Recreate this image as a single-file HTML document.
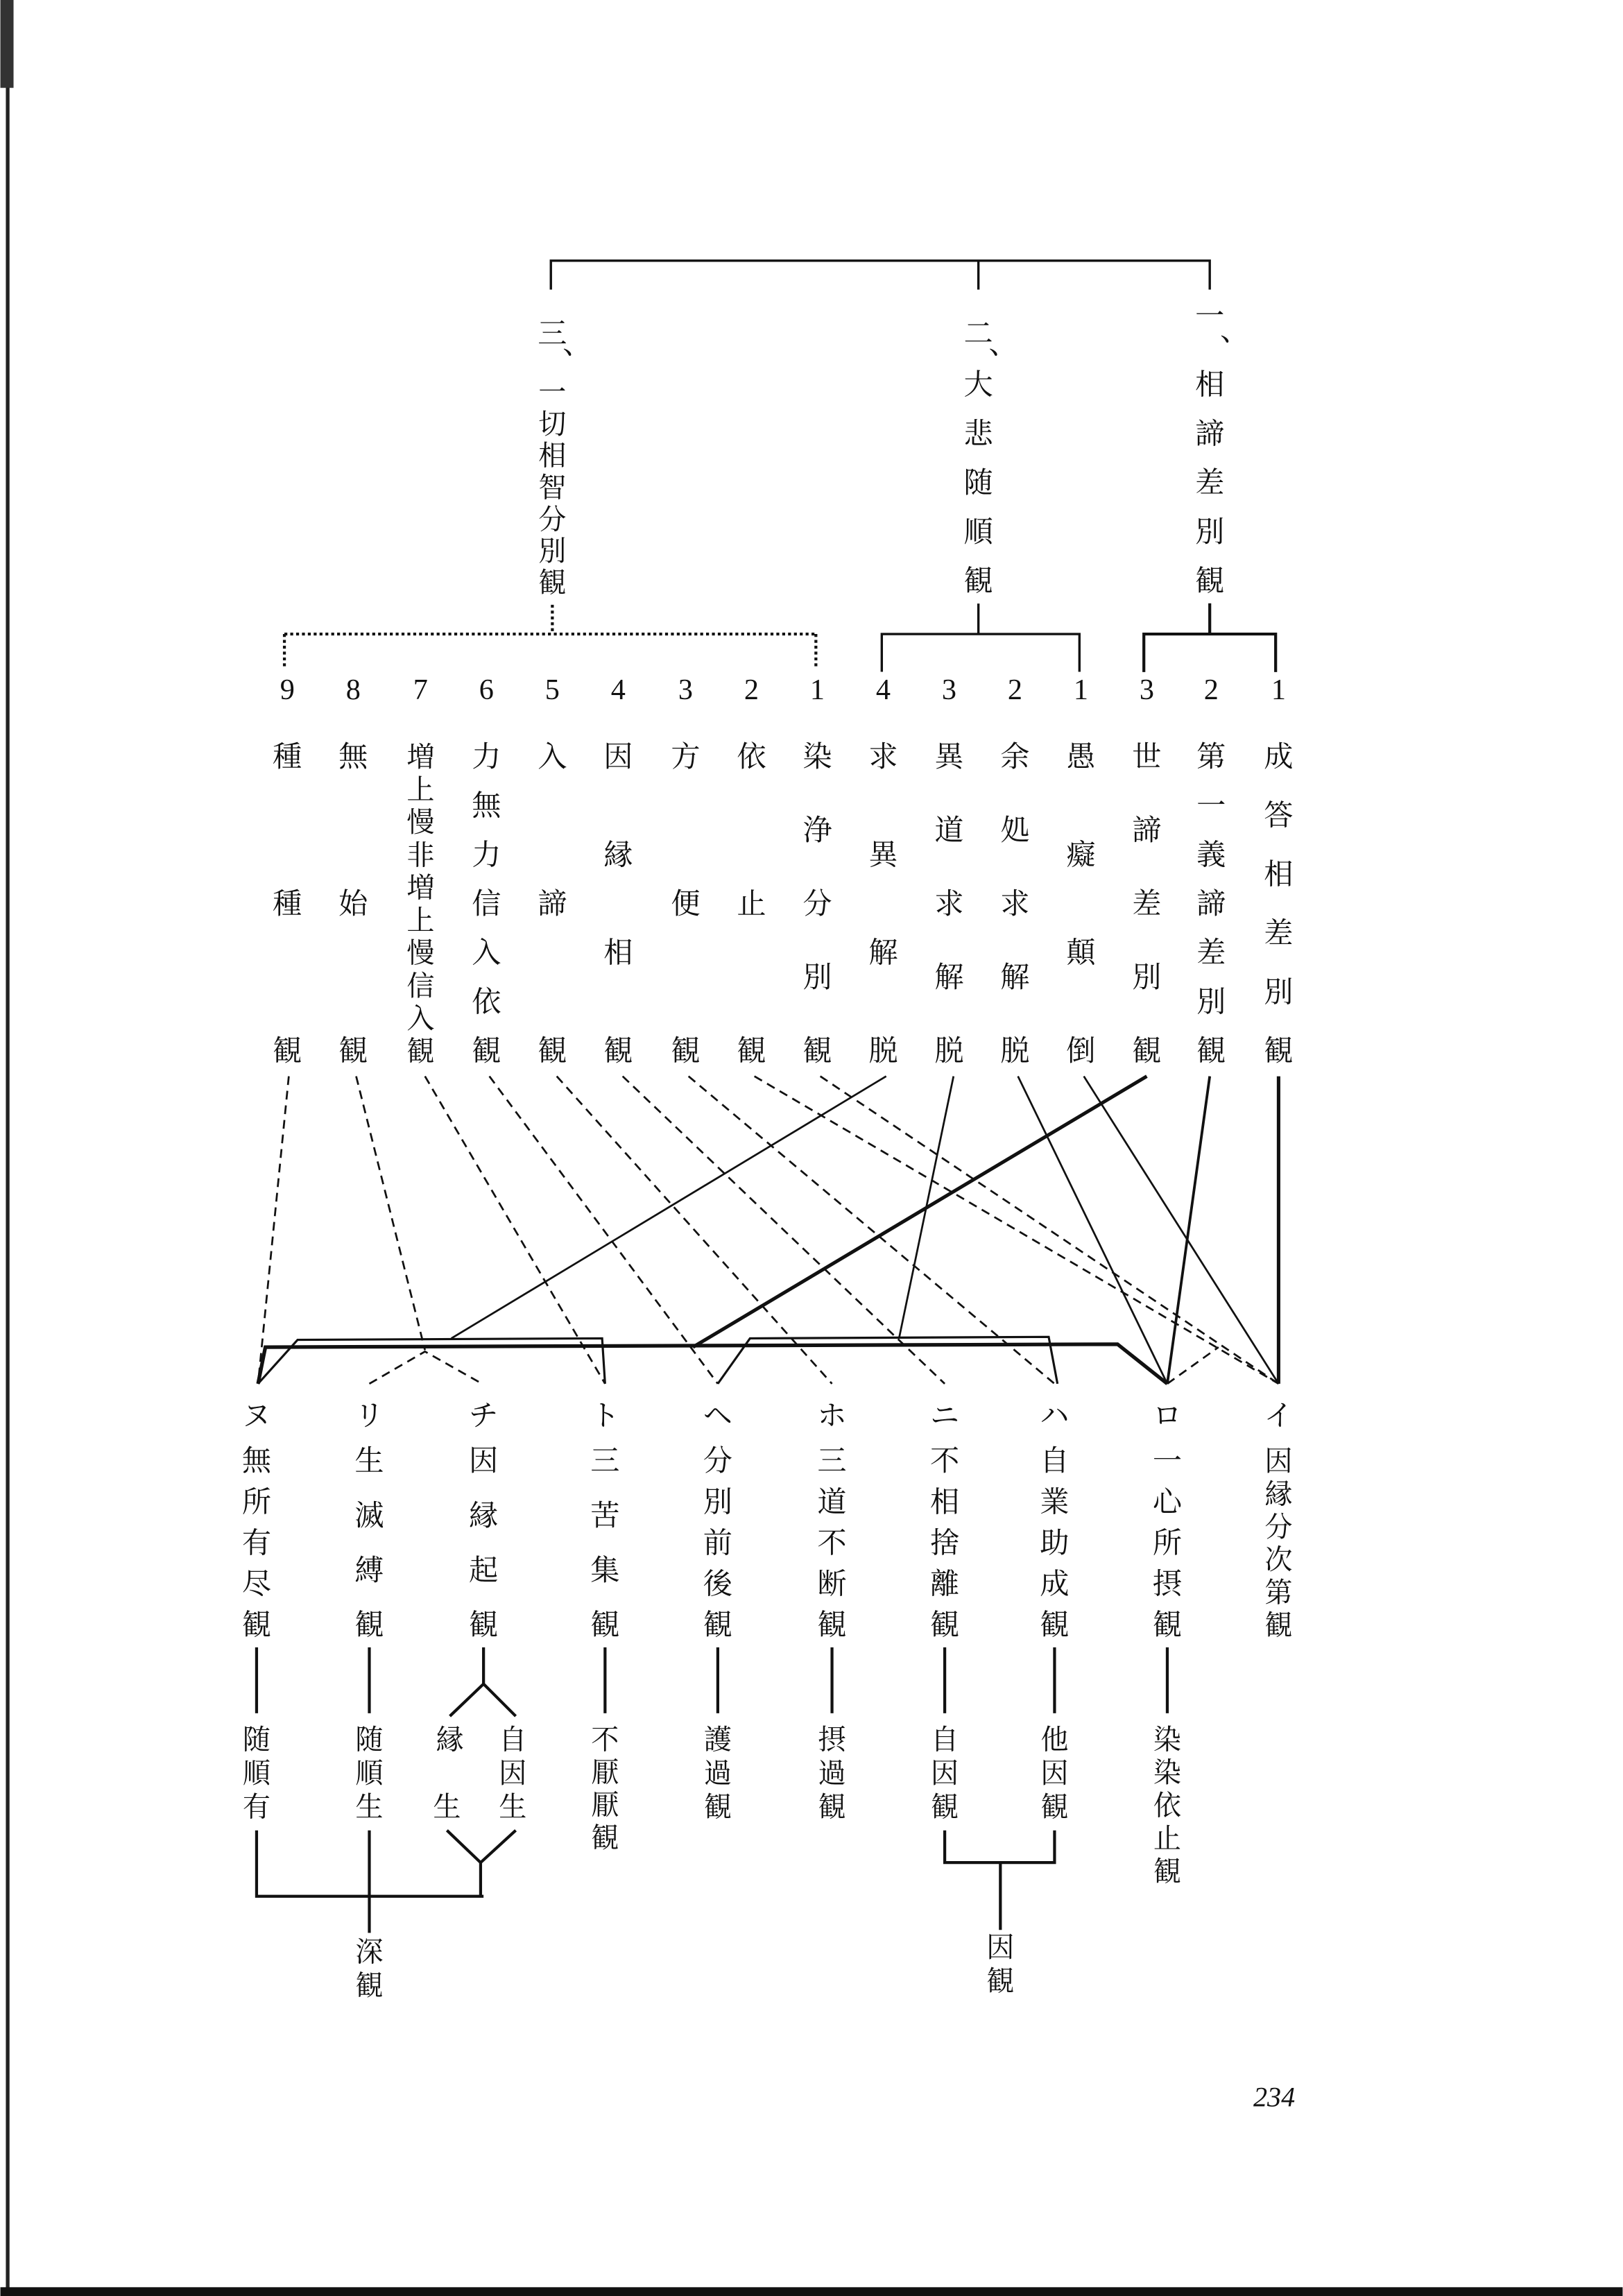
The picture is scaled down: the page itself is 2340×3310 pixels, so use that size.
<!DOCTYPE html>
<html><head><meta charset="utf-8"><style>
html,body{margin:0;padding:0;background:#fff;}
svg{display:block;}
text{font-family:"Liberation Serif","Noto Serif CJK SC","Noto Sans CJK JP",serif;fill:#111;text-anchor:middle;dominant-baseline:central;}
.n{font-size:20px;}
.s{font-size:19px;}
</style></head><body>
<svg width="2340" height="3310" viewBox="0 0 1108 1568" xmlns="http://www.w3.org/2000/svg">
<rect width="1108" height="1568" fill="#fff"/>
<!-- edge artifacts -->
<line x1="5" y1="0" x2="5" y2="1568" stroke="#222" stroke-width="2.5"/>
<rect x="0" y="0" width="9" height="60" fill="#333"/>
<rect x="0" y="1562" width="1108" height="6" fill="#111"/>
<g fill="none" stroke="#111" stroke-linecap="square">
<!-- top bracket -->
<path d="M376,197 V178 H826 V197 M668,178 V197" stroke-width="1.6"/>
<!-- dotted bracket -->
<path d="M377,413 V433 M194,433 H557 M194,433 V455 M557,433 V455" stroke-width="2" stroke-dasharray="2,2" stroke-linecap="butt"/>
<path d="M668,413 V433 M602,433 H737 M602,433 V458 M737,433 V458" stroke-width="1.6"/>
<path d="M826,413 V433 M781,433 H871 M781,433 V458 M871,433 V458" stroke-width="2"/>
</g>
<g fill="none" stroke="#111" stroke-width="1.3" stroke-dasharray="6,4">
<path d="M197,735 L176,945"/>
<path d="M243,735 L290,922 M252,945 L290,923 L329,945"/>
<path d="M290,735 L413,945"/>
<path d="M334,735 L490,945"/>
<path d="M380,735 L568,945"/>
<path d="M425,735 L645,945"/>
<path d="M470,735 L720,945"/>
<path d="M515,735 L873,945"/>
<path d="M560,735 L873,945"/>
<path d="M797,945 L832,920"/>
</g>
<g fill="none" stroke="#111" stroke-linejoin="miter">
<path d="M605,735 L308,914" stroke-width="1.3"/>
<path d="M651,735 L614,913" stroke-width="1.3"/>
<path d="M695,735 L797,945" stroke-width="1.3"/>
<path d="M740,735 L873,945" stroke-width="1.3"/>
<path d="M783,735 L473,920" stroke-width="2.4"/>
<path d="M826,735 L797,945" stroke-width="1.8"/>
<path d="M873,735 L873,945" stroke-width="2.4"/>
<path d="M176,945 L181,920 L763,918 L797,945" stroke-width="2.5"/>
<path d="M176,945 L203,915 L411,914 L413,945" stroke-width="1.5"/>
<path d="M490,945 L512,914 L716,913 L722,945" stroke-width="1.5"/>
</g>
<!-- lower connectors -->
<g fill="none" stroke="#111" stroke-width="2">
<path d="M175,1125 V1170 M252,1125 V1170 M413,1125 V1170 M490,1125 V1170 M568,1125 V1170 M645,1125 V1170 M720,1125 V1170 M797,1125 V1170"/>
<path d="M330,1125 V1150 L307,1172 M330,1150 L352,1172"/>
<path d="M175,1250 V1295 H330 M305,1250 L328,1272 L352,1250 M328,1272 V1295 M252,1250 V1320"/>
<path d="M645,1250 V1272 H720 V1250 M683,1272 V1318"/>
</g>
<!-- headers -->
<g class="n">
<text x="377" y="228">三</text><text x="394" y="235">、</text>
<text x="668" y="228">二</text><text x="685" y="235">、</text>
<text x="826" y="216">一</text><text x="843" y="226">、</text>
</g>
<g class="s">
<text x="377" y="268">一</text><text x="377" y="289.7">切</text><text x="377" y="311.3">相</text><text x="377" y="333">智</text><text x="377" y="354.7">分</text><text x="377" y="376.3">別</text><text x="377" y="398">観</text>
</g>
<g class="n">
<text x="668" y="263">大</text><text x="668" y="296.5">悲</text><text x="668" y="330">随</text><text x="668" y="363.5">順</text><text x="668" y="397">観</text>
<text x="826" y="263">相</text><text x="826" y="296.5">諦</text><text x="826" y="330">差</text><text x="826" y="363.5">別</text><text x="826" y="397">観</text>
</g>
<!-- numbers -->
<g class="n">
<text x="196" y="471">9</text><text x="241" y="471">8</text><text x="287" y="471">7</text><text x="332" y="471">6</text><text x="377" y="471">5</text><text x="422" y="471">4</text><text x="468" y="471">3</text><text x="513" y="471">2</text><text x="558" y="471">1</text><text x="603" y="471">4</text><text x="648" y="471">3</text><text x="693" y="471">2</text><text x="738" y="471">1</text><text x="783" y="471">3</text><text x="827" y="471">2</text><text x="873" y="471">1</text>
</g>
<!-- top columns -->
<g class="n">
<text x="196" y="517">種</text><text x="196" y="617.5">種</text><text x="196" y="718">観</text>
<text x="241" y="517">無</text><text x="241" y="617.5">始</text><text x="241" y="718">観</text>
<text x="332" y="517">力</text><text x="332" y="550.5">無</text><text x="332" y="584">力</text><text x="332" y="617.5">信</text><text x="332" y="651">入</text><text x="332" y="684.5">依</text><text x="332" y="718">観</text>
<text x="377" y="517">入</text><text x="377" y="617.5">諦</text><text x="377" y="718">観</text>
<text x="422" y="517">因</text><text x="422" y="584">縁</text><text x="422" y="651">相</text><text x="422" y="718">観</text>
<text x="468" y="517">方</text><text x="468" y="617.5">便</text><text x="468" y="718">観</text>
<text x="513" y="517">依</text><text x="513" y="617.5">止</text><text x="513" y="718">観</text>
<text x="558" y="517">染</text><text x="558" y="567.25">浄</text><text x="558" y="617.5">分</text><text x="558" y="667.75">別</text><text x="558" y="718">観</text>
<text x="603" y="517">求</text><text x="603" y="584">異</text><text x="603" y="651">解</text><text x="603" y="718">脱</text>
<text x="648" y="517">異</text><text x="648" y="567.25">道</text><text x="648" y="617.5">求</text><text x="648" y="667.75">解</text><text x="648" y="718">脱</text>
<text x="693" y="517">余</text><text x="693" y="567.25">処</text><text x="693" y="617.5">求</text><text x="693" y="667.75">解</text><text x="693" y="718">脱</text>
<text x="738" y="517">愚</text><text x="738" y="584">癡</text><text x="738" y="651">顛</text><text x="738" y="718">倒</text>
<text x="783" y="517">世</text><text x="783" y="567.25">諦</text><text x="783" y="617.5">差</text><text x="783" y="667.75">別</text><text x="783" y="718">観</text>
<text x="827" y="517">第</text><text x="827" y="550.5">一</text><text x="827" y="584">義</text><text x="827" y="617.5">諦</text><text x="827" y="651">差</text><text x="827" y="684.5">別</text><text x="827" y="718">観</text>
<text x="873" y="517">成</text><text x="873" y="557.2">答</text><text x="873" y="597.4">相</text><text x="873" y="637.6">差</text><text x="873" y="677.8">別</text><text x="873" y="718">観</text>
</g>
<g class="s">
<text x="287" y="517">増</text><text x="287" y="539.3">上</text><text x="287" y="561.7">慢</text><text x="287" y="584">非</text><text x="287" y="606.3">増</text><text x="287" y="628.7">上</text><text x="287" y="651">慢</text><text x="287" y="673.3">信</text><text x="287" y="695.7">入</text><text x="287" y="718">観</text>
</g>
<!-- bottom labels -->
<g class="n">
<text x="175" y="967">ヌ</text><text x="252" y="967">リ</text><text x="330" y="967">チ</text><text x="413" y="967">ト</text><text x="490" y="967">ヘ</text><text x="568" y="967">ホ</text><text x="645" y="967">ニ</text><text x="720" y="967">ハ</text><text x="797" y="967">ロ</text><text x="873" y="967">イ</text>
<text x="175" y="998">無</text><text x="175" y="1026">所</text><text x="175" y="1054">有</text><text x="175" y="1082">尽</text><text x="175" y="1110">観</text>
<text x="252" y="998">生</text><text x="252" y="1035.3">滅</text><text x="252" y="1072.7">縛</text><text x="252" y="1110">観</text>
<text x="330" y="998">因</text><text x="330" y="1035.3">縁</text><text x="330" y="1072.7">起</text><text x="330" y="1110">観</text>
<text x="413" y="998">三</text><text x="413" y="1035.3">苦</text><text x="413" y="1072.7">集</text><text x="413" y="1110">観</text>
<text x="490" y="998">分</text><text x="490" y="1026">別</text><text x="490" y="1054">前</text><text x="490" y="1082">後</text><text x="490" y="1110">観</text>
<text x="568" y="998">三</text><text x="568" y="1026">道</text><text x="568" y="1054">不</text><text x="568" y="1082">断</text><text x="568" y="1110">観</text>
<text x="645" y="998">不</text><text x="645" y="1026">相</text><text x="645" y="1054">捨</text><text x="645" y="1082">離</text><text x="645" y="1110">観</text>
<text x="720" y="998">自</text><text x="720" y="1026">業</text><text x="720" y="1054">助</text><text x="720" y="1082">成</text><text x="720" y="1110">観</text>
<text x="797" y="998">一</text><text x="797" y="1026">心</text><text x="797" y="1054">所</text><text x="797" y="1082">摂</text><text x="797" y="1110">観</text>
</g>
<g class="s">
<text x="873" y="998">因</text><text x="873" y="1020.4">縁</text><text x="873" y="1042.8">分</text><text x="873" y="1065.2">次</text><text x="873" y="1087.6">第</text><text x="873" y="1110">観</text>
<text x="175" y="1188">随</text><text x="175" y="1211">順</text><text x="175" y="1234">有</text>
<text x="252" y="1188">随</text><text x="252" y="1211">順</text><text x="252" y="1234">生</text>
<text x="307" y="1188">縁</text><text x="305" y="1234">生</text>
<text x="350" y="1188">自</text><text x="350" y="1211">因</text><text x="350" y="1234">生</text>
<text x="413" y="1188">不</text><text x="413" y="1210.3">厭</text><text x="413" y="1232.7">厭</text><text x="413" y="1255">観</text>
<text x="490" y="1188">護</text><text x="490" y="1211">過</text><text x="490" y="1234">観</text>
<text x="568" y="1188">摂</text><text x="568" y="1211">過</text><text x="568" y="1234">観</text>
<text x="645" y="1188">自</text><text x="645" y="1211">因</text><text x="645" y="1234">観</text>
<text x="720" y="1188">他</text><text x="720" y="1211">因</text><text x="720" y="1234">観</text>
<text x="797" y="1188">染</text><text x="797" y="1210.5">染</text><text x="797" y="1233">依</text><text x="797" y="1255.5">止</text><text x="797" y="1278">観</text>
<text x="252" y="1333">深</text><text x="252" y="1356">観</text>
<text x="683" y="1330">因</text><text x="683" y="1353">観</text>
</g>
<text x="870" y="1432" style="font-size:19px;font-style:italic;">234</text>
</svg>
</body></html>
